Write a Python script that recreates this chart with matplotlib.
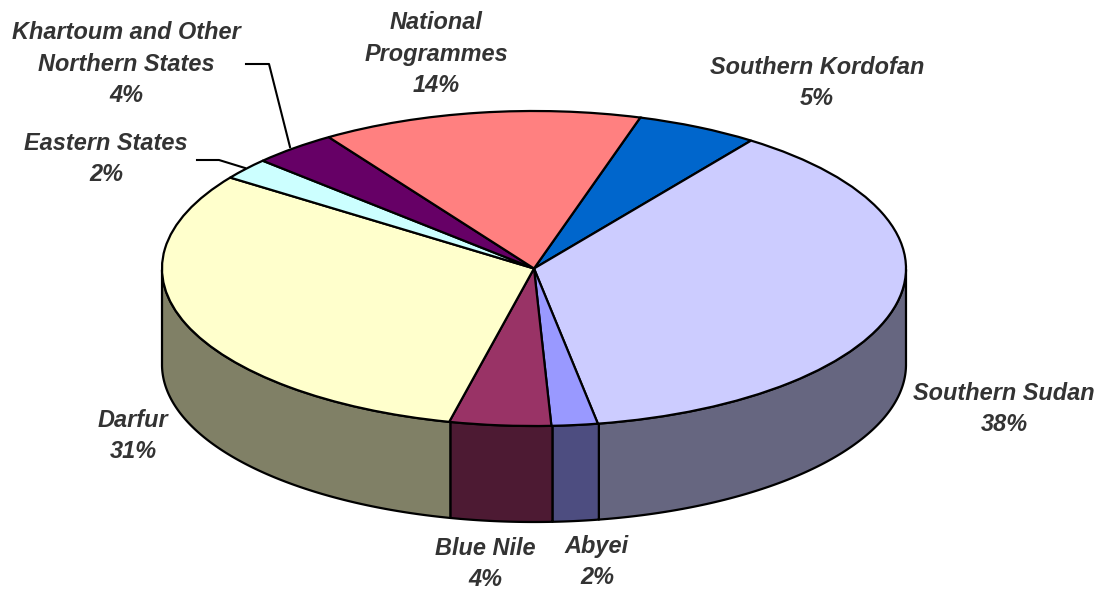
import matplotlib
matplotlib.use('Agg')
import matplotlib.pyplot as plt
import numpy as np

plt.rcParams['font.family'] = ['Liberation Sans', 'DejaVu Sans']

# clockwise from Southern Kordofan
regions = ['Southern Kordofan', 'Southern Sudan', 'Abyei', 'Blue Nile', 'Darfur',
           'Eastern States', 'Khartoum and Other\nNorthern States', 'National\nProgrammes']
shares = [5.3, 37.3, 2.0, 4.4, 31.1, 2.2, 3.7, 13.9]
pct_labels = ['5%', '38%', '2%', '4%', '31%', '2%', '4%', '14%']
top_colors = ['#0066CC', '#CCCCFF', '#9999FF', '#993366', '#FFFFCC', '#CCFFFF', '#660066', '#FF8080']
side_colors = ['#003366', '#666680', '#4D4D80', '#4D1A33', '#808066', '#668080', '#330033', '#804040']
label_px = [(817, 83), (1004, 409), (597, 562), (485, 564), (133, 436), (106, 159), (126, 64), (436, 54)]

W, H = 1102, 589
cx, cy, rx, ry, depth = 534, 268.5, 372, 157.5, 96
start = 73.4


def px(x, y):
    # image pixels to pie units
    return (x - cx) / rx, (cy - y) / ry


fig = plt.figure(figsize=(W / 100, H / 100), dpi=100)
ax = fig.add_axes([0, 0, 1, 1])
d = depth / ry

# side wall first, only the front half of the rim shows
angle = start
for share, col in zip(shares, side_colors):
    a0, a1 = angle - share * 3.6, angle
    angle = a0
    t = np.radians(np.linspace(a0, a1, 200))
    t = t[np.sin(t) <= 0]
    if len(t) == 0:
        continue
    xs = np.cos(t)
    ys = np.sin(t)
    ax.fill(np.r_[xs, xs[::-1]], np.r_[ys, ys[::-1] - d], facecolor=col,
            edgecolor='black', linewidth=1.6, joinstyle='round')

ax.pie(shares, colors=top_colors, startangle=start, counterclock=False, radius=1,
       wedgeprops={'edgecolor': 'black', 'linewidth': 1.6})

ax.set_aspect('auto')
ax.set_xlim(px(0, 0)[0], px(W, 0)[0])
ax.set_ylim(px(0, H)[1], px(0, 0)[1])
ax.axis('off')

for name, pct, pos in zip(regions, pct_labels, label_px):
    x, y = px(*pos)
    ax.text(x, y, name + '\n' + pct, ha='center', va='center', fontsize=16.9,
            fontweight='bold', fontstyle='italic', color='#333333', linespacing=1.47)

# leader lines
for pts in ([(246, 64), (269, 64), (290, 147)], [(197, 160), (219, 160), (245, 168)]):
    p = np.array([px(*q) for q in pts])
    ax.plot(p[:, 0], p[:, 1], color='black', linewidth=1.5)

fig.savefig('out.png', dpi=100, facecolor='white')
